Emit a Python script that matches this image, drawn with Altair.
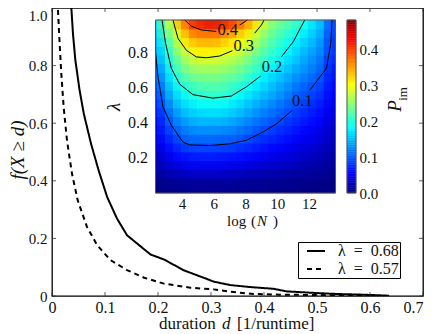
import altair as alt
import pandas as pd

solid_x = [.0365,.0396,.044,.052,.060,.0736,.088,.104,.1226,.1415,.168,.186,.211,.249,.286,.305,.336,.374,.418,.443,.487,.537,.587,.636]
solid_y = [1.0,.91,.82,.715,.633,.529,.436,.344,.269,.211,.171,.144,.127,.089,.0635,.05,.038,.031,.025,.016,.0115,.007,.0046,.001]
dash_x = [.0113,.0138,.0176,.022,.0283,.0377,.0484,.066,.085,.11,.1415,.174,.211,.261,.305,.336,.38,.43,.493,.555,.6]
dash_y = [.993,.898,.771,.656,.54,.425,.333,.24,.177,.125,.09,.0635,.043,.029,.023,.015,.007,.0046,.0035,.002,.001]
series_names = ["λ\u2002=\u20020.68\u2002", "λ\u2002=\u20020.57\u2002"]

x_ticks = [0, .1, .2, .3, .4, .5, .6, .7]
y_ticks = [0, .2, .4, .6, .8, 1.0]
inset_x_ticks = [4, 6, 8, 10, 12]
inset_y_ticks = [.2, .4, .6, .8]
bar_ticks = [0, .1, .2, .3, .4]

cols = [2.5,3,3.5,4,4.5,5,5.5,6,6.5,7,7.5,8,8.5,9,9.5,10,10.5,11,11.5,12,12.5,13,13.5]
rows = [.975,.925,.875,.825,.775,.725,.675,.625,.575,.525,.475,.425,.375,.325,.275,.225,.175,.125,.075,.025]
grid = [
[.17,.25,.30,.36,.41,.45,.46,.47,.47,.45,.43,.40,.36,.31,.28,.26,.24,.23,.21,.20,.17,.15,.09],
[.16,.23,.27,.33,.37,.40,.40,.41,.40,.39,.37,.35,.32,.29,.25,.23,.22,.21,.195,.18,.16,.14,.09],
[.15,.21,.25,.30,.34,.36,.36,.36,.36,.345,.33,.31,.29,.26,.24,.22,.21,.195,.18,.165,.15,.13,.085],
[.14,.19,.23,.28,.31,.325,.33,.33,.325,.31,.30,.29,.27,.245,.225,.21,.195,.18,.165,.15,.14,.12,.08],
[.125,.175,.22,.255,.28,.30,.30,.30,.295,.29,.28,.265,.245,.23,.21,.20,.185,.17,.155,.14,.13,.115,.08],
[.115,.165,.205,.235,.26,.27,.275,.275,.27,.265,.255,.245,.23,.21,.20,.185,.17,.155,.145,.13,.12,.105,.07],
[.105,.15,.19,.22,.24,.25,.25,.25,.25,.245,.235,.225,.21,.20,.18,.17,.155,.145,.13,.125,.11,.098,.065],
[.095,.14,.175,.205,.22,.23,.23,.235,.23,.225,.22,.21,.195,.18,.165,.155,.145,.13,.12,.11,.10,.09,.06],
[.085,.125,.16,.185,.20,.21,.215,.215,.215,.21,.20,.19,.18,.165,.155,.14,.13,.12,.105,.098,.09,.08,.055],
[.075,.115,.145,.17,.185,.195,.20,.20,.20,.195,.185,.175,.16,.15,.14,.13,.12,.105,.097,.09,.08,.07,.05],
[.068,.103,.13,.155,.165,.175,.18,.18,.18,.175,.165,.155,.145,.135,.125,.115,.105,.097,.088,.08,.07,.062,.045],
[.06,.09,.115,.135,.15,.155,.16,.16,.16,.155,.15,.14,.13,.12,.11,.103,.095,.087,.078,.07,.062,.055,.04],
[.05,.08,.103,.12,.13,.14,.14,.14,.14,.135,.13,.12,.115,.105,.098,.09,.082,.075,.068,.06,.055,.048,.035],
[.045,.07,.09,.105,.115,.12,.12,.12,.12,.115,.115,.105,.10,.09,.085,.078,.07,.065,.058,.052,.047,.04,.03],
[.038,.058,.075,.09,.10,.102,.102,.102,.10,.098,.095,.09,.083,.076,.07,.065,.06,.055,.05,.044,.04,.034,.025],
[.03,.047,.06,.072,.08,.083,.083,.083,.082,.08,.077,.072,.067,.062,.057,.053,.05,.045,.04,.036,.032,.028,.02],
[.022,.036,.047,.055,.06,.063,.063,.063,.062,.06,.058,.055,.05,.047,.043,.04,.037,.034,.03,.027,.024,.02,.015],
[.015,.025,.033,.038,.042,.044,.044,.044,.043,.042,.04,.038,.035,.032,.03,.028,.026,.023,.02,.018,.016,.014,.01],
[.008,.014,.019,.022,.024,.025,.025,.025,.025,.024,.023,.022,.02,.018,.017,.016,.015,.013,.012,.01,.009,.008,.005],
[.002,.004,.006,.007,.008,.008,.008,.008,.008,.008,.007,.007,.006,.006,.005,.005,.005,.004,.004,.003,.003,.002,.001],
]

contours = [
    ("0.1a", [2.32,2.49,2.80,3.33,4.06,4.48,5.74,7.0,8.05,9.1,9.95,10.93], [.80,.66,.49,.385,.29,.274,.27,.28,.30,.347,.394,.47]),
    ("0.1b", [12.05,13.1,13.37,13.45], [.585,.71,.85,.985]),
    ("0.2a", [2.74,2.97,3.33,3.85,4.69,5.95,7.1,8.05,8.94], [.985,.85,.71,.62,.56,.54,.552,.604,.665]),
    ("0.2b", [10.26,11.0,11.73], [.775,.86,.985]),
    ("0.3a", [3.43,3.75,4.27,4.9,5.53,6.37,7.17], [.985,.88,.813,.775,.77,.78,.81]),
    ("0.3b", [8.58,9.0,9.17], [.91,.956,.985]),
    ("0.4a", [4.17,4.59,5.22,6.16], [.985,.95,.928,.92]),
    ("0.4b", [7.63,8.12], [.956,.985]),
]
contour_labels = ["0.1", "0.2", "0.3", "0.4"]
contour_label_x = [11.58, 9.67, 7.89, 6.88]
contour_label_y = [.524, .718, .836, .93]

jet_stops = [0, .053, .181, .301, .429, .482]
jet_colors = ["#00007f", "#0000ff", "#00ffff", "#ffff00", "#ff0000", "#7f0000"]
bar_levels = [i * .005 for i in range(97)]

FONT = "Liberation Serif"
INK = "#111"

# ---- main axes
def xs():
    return alt.Scale(domain=[0, .7], nice=False, zero=False)
def ys():
    return alt.Scale(domain=[0, 1], nice=False, zero=False)

lines_df = pd.DataFrame(
    [{"d": a, "f": b, "s": series_names[0], "i": i} for i, (a, b) in enumerate(zip(solid_x, solid_y))]
    + [{"d": a, "f": b, "s": series_names[1], "i": i} for i, (a, b) in enumerate(zip(dash_x, dash_y))]
)
num_expr = "datum.value == 0 ? '0' : format(datum.value, '.1f')"
lines = alt.Chart(lines_df).mark_line(color="black", strokeWidth=2, clip=True).encode(
    x=alt.X("d:Q", scale=xs(), axis=alt.Axis(
        values=x_ticks, labelExpr=num_expr, title=None, grid=False, domain=False, ticks=False,
        labelFont=FONT, labelFontSize=16, labelColor=INK, labelPadding=3, labelFlush=False, labelOverlap=False,
        labelAlign={"condition": {"test": "datum.value == 0.7", "value": "right"}, "value": "center"})),
    y=alt.Y("f:Q", scale=ys(), axis=alt.Axis(
        values=y_ticks, labelExpr=num_expr, title=None, grid=False, domain=False, ticks=False,
        labelFont=FONT, labelFontSize=15, labelColor=INK, labelPadding=5, labelOverlap=False,
        labelBaseline={"condition": {"test": "datum.value == 1", "value": "top"}, "value": "middle"})),
    strokeDash=alt.StrokeDash("s:N", scale=alt.Scale(domain=series_names, range=[[1, 0], [5, 4]]),
        legend=alt.Legend(orient="none", legendX=246, legendY=234, title=None, fillColor="white",
            strokeColor="black", padding=1, symbolType="stroke", symbolStrokeColor="black",
            symbolStrokeWidth=2, symbolSize=324, symbolOffset=7, labelFont=FONT, labelFontSize=16, labelColor=INK,
            clipHeight=16, rowPadding=2, labelOffset=12)),
    order="i:Q",
)
xt = pd.DataFrame({"v": x_ticks})
yt = pd.DataFrame({"v": y_ticks})
tick_style = dict(color="#333", strokeWidth=.8)
main_ticks = [
    alt.Chart(xt).mark_rule(**tick_style).encode(x=alt.X("v:Q", scale=xs(), axis=None), y=alt.value(288), y2=alt.value(284)),
    alt.Chart(xt).mark_rule(**tick_style).encode(x=alt.X("v:Q", scale=xs(), axis=None), y=alt.value(0), y2=alt.value(4)),
    alt.Chart(yt).mark_rule(**tick_style).encode(y=alt.Y("v:Q", scale=ys(), axis=None), x=alt.value(0), x2=alt.value(4)),
    alt.Chart(yt).mark_rule(**tick_style).encode(y=alt.Y("v:Q", scale=ys(), axis=None), x=alt.value(371), x2=alt.value(367)),
]

# ---- inset
def ixs():
    return alt.Scale(domain=[2.33, 13.67], range=[103.5, 283.5], nice=False, zero=False, clamp=True)
def iys():
    return alt.Scale(domain=[0, .985], range=[185, 12], nice=False, zero=False, clamp=True)
def cols_scale():
    return alt.Scale(domain=jet_stops, range=jet_colors, interpolate="rgb")

heat_df = pd.DataFrame([
    {"x0": c - .25, "x1": c + .25, "y0": r - .025, "y1": r + .025,
     "xa": c - .57, "xb": c + .43, "ya": r - .044, "yb": r + .056, "p": grid[j][i]}
    for j, r in enumerate(rows) for i, c in enumerate(cols)
])
heat = alt.Chart(heat_df).mark_rect(strokeWidth=.6).encode(
    x=alt.X("x0:Q", scale=ixs(), axis=alt.Axis(
        orient="bottom", values=inset_x_ticks, title=None, grid=False, domain=False, ticks=False, offset=-103,
        labelFont=FONT, labelFontSize=15, labelColor=INK, labelPadding=3, labelFlush=False, labelOverlap=False)),
    x2="x1:Q",
    y=alt.Y("y0:Q", scale=iys(), axis=alt.Axis(
        orient="left", values=inset_y_ticks, format=".1f", title=None, grid=False, domain=False, ticks=False, offset=-103.5,
        labelFont=FONT, labelFontSize=16, labelColor=INK, labelPadding=8, labelOverlap=False)),
    y2="y1:Q",
    color=alt.Color("p:Q", scale=cols_scale(), legend=None),
    stroke=alt.Stroke("p:Q", scale=cols_scale(), legend=None),
)
# same cells drawn again, wider and half transparent, to soften the cell edges as the reference's imshow does
soft = alt.Chart(heat_df).mark_rect(opacity=.5, strokeWidth=0).encode(
    x=alt.X("xa:Q", scale=ixs(), axis=None), x2="xb:Q",
    y=alt.Y("ya:Q", scale=iys(), axis=None), y2="yb:Q",
    color=alt.Color("p:Q", scale=cols_scale(), legend=None),
)
contour_df = pd.DataFrame([
    {"seg": name, "n": x, "l": y, "i": i}
    for name, xs_, ys_ in contours for i, (x, y) in enumerate(zip(xs_, ys_))
])
contour = alt.Chart(contour_df).mark_line(color="black", strokeWidth=1).encode(
    x=alt.X("n:Q", scale=ixs(), axis=None),
    y=alt.Y("l:Q", scale=iys(), axis=None),
    detail="seg:N",
    order="i:Q",
)
clabel = alt.Chart(pd.DataFrame({"t": contour_labels, "n": contour_label_x, "l": contour_label_y})).mark_text(
    font=FONT, fontSize=16.5, color=INK
).encode(
    x=alt.X("n:Q", scale=ixs(), axis=None),
    y=alt.Y("l:Q", scale=iys(), axis=None),
    text="t:N",
)
frame = alt.Chart(pd.DataFrame({"a": [2.33], "b": [13.67], "c": [0], "d": [.985]})).mark_rect(
    fill=None, stroke="#555", strokeWidth=1
).encode(
    x=alt.X("a:Q", scale=ixs(), axis=None), x2="b:Q",
    y=alt.Y("c:Q", scale=iys(), axis=None), y2="d:Q",
)

# ---- colour bar
bar_df = pd.DataFrame({"a": bar_levels, "b": [v + .005 for v in bar_levels]})
bar_y = lambda: alt.Scale(domain=[0, .482], range=[185, 12], nice=False, zero=False, clamp=True)
bar = alt.Chart(bar_df).mark_rect(strokeWidth=.5).encode(
    x=alt.value(295), x2=alt.value(304),
    y=alt.Y("a:Q", scale=bar_y(), axis=alt.Axis(
        orient="right", values=bar_ticks, format=".1f", title=None, grid=False, domain=False, ticks=False,
        offset=-66, labelFont=FONT, labelFontSize=15, labelColor=INK, labelPadding=2, labelOverlap=False)),
    y2="b:Q",
    color=alt.Color("a:Q", scale=cols_scale(), legend=None),
    stroke=alt.Stroke("a:Q", scale=cols_scale(), legend=None),
)
bar_frame = alt.Chart(pd.DataFrame({"a": [0], "b": [.482]})).mark_rect(fill=None, stroke="#555", strokeWidth=1).encode(
    x=alt.value(295), x2=alt.value(304),
    y=alt.Y("a:Q", scale=bar_y(), axis=None), y2="b:Q",
)

# ---- text pieces
def txt(s, px, py, size=16, italic=False, angle=0, align="left"):
    kw = {"fontStyle": "italic"} if italic else {}
    return alt.Chart(alt.Data(values=[{}])).mark_text(
        text=s, font=FONT, fontSize=size, color=INK, angle=angle, align=align, baseline="middle", **kw
    ).encode(x=alt.value(px - 52), y=alt.value(py - 8))

texts = [
    txt("duration", 159, 324, 17),
    txt("d", 222, 324, 17, True),
    txt("[1/runtime]", 237, 324, 17),
    txt("f(X ≥ d)", 18, 150, 19, True, 270, "center"),
    txt("log", 227, 221, 15),
    txt("(", 251, 221, 15),
    txt("N", 257, 221, 15, True),
    txt(")", 273, 221, 15),
    txt("λ", 114, 107, 19, True, 270, "center"),
    txt("P", 395, 106, 19, True, 270, "center"),
    txt("im", 403, 94, 13, False, 270, "center"),
]

chart = alt.layer(lines, *main_ticks, heat, soft, contour, clabel, frame, bar, bar_frame, *texts).resolve_scale(
    x="independent", y="independent", color="independent", stroke="independent", strokeDash="independent"
).properties(
    width=371, height=288,
    autosize=alt.AutoSizeParams(type="none"),
    padding={"left": 44, "top": 0, "right": 5, "bottom": 38},
).configure_view(stroke="black", strokeWidth=1.3)

chart.save("out.html", embed_options={"renderer": "svg", "actions": False})
